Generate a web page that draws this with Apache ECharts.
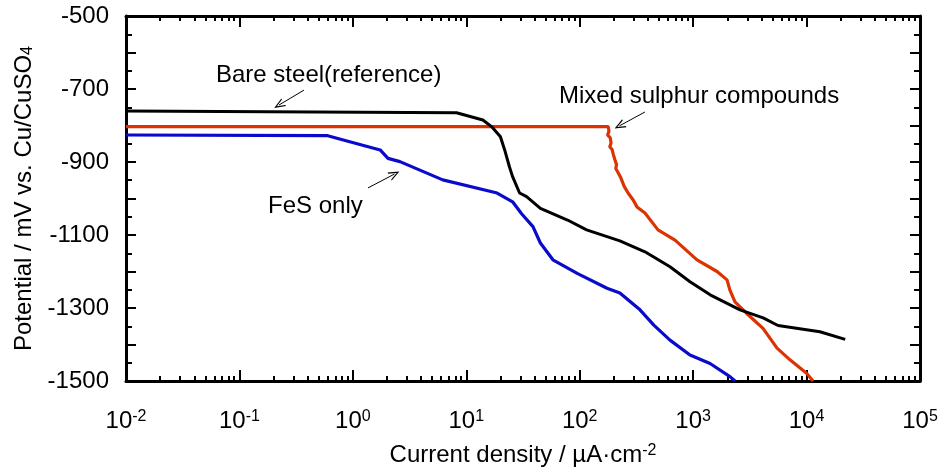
<!DOCTYPE html>
<html lang="en">
<head>
<meta charset="utf-8">
<title>Polarisation curves</title>
<style>
html, body { margin: 0; padding: 0; background: #fff; }
#chart { width: 944px; height: 473px; }
</style>
</head>
<body>
<div id="chart"></div>
<script src="https://cdn.jsdelivr.net/npm/echarts@6/dist/echarts.min.js"></script>
<script>
// current density (uA/cm2) / potential (mV vs. Cu/CuSO4)
var bareX = [0.01, 8.2, 14, 16.7, 20, 21.8, 24, 25.6, 29.5, 34, 45, 78, 115, 226, 376, 625, 938, 1413, 2590, 4140, 5600, 13100, 21900];
var bareY = [-760, -765, -785, -803, -831, -867, -913, -940, -985, -995, -1027, -1059, -1086, -1116, -1146, -1187, -1228, -1264, -1305, -1327, -1348, -1365, -1386];

var fesX = [0.01, 0.6, 1.74, 2.04, 2.6, 6.2, 18.7, 25.6, 30.6, 38.7, 45, 58, 95, 174, 226, 340, 450, 625, 938, 1410, 2110, 2340];
var fesY = [-826, -828, -867, -890, -899, -949, -985, -1009, -1041, -1077, -1122, -1168, -1205, -1246, -1259, -1305, -1347, -1388, -1429, -1452, -1488, -1500];

var mixX = [0.01, 178.6, 181, 176, 186, 189, 184, 193, 198, 205, 211, 208, 217, 231, 246, 267, 296, 320, 376, 490, 692, 1081, 1625, 1990, 2110, 2338, 2965, 4130, 5490, 7140, 10000, 11400];
var mixY = [-803, -803, -816, -826, -834, -848, -858, -866, -880, -895, -907, -918, -928, -944, -966, -985, -1004, -1023, -1040, -1086, -1114, -1168, -1200, -1223, -1251, -1283, -1315, -1356, -1410, -1442, -1479, -1500];

// annotation arrows [from, to]
var arrowBare = [[0.371, -703], [0.223, -744]];
var arrowFes = [[1.36, -971], [2.33, -933]];
var arrowMix = [[376, -763], [224, -801]];

// axis ticks
var xDecades = [-2, -1, 0, 1, 2, 3, 4, 5];
var xMinorMult = [2, 3, 4, 5, 6, 7, 8, 9];
var yMin = -1500, yMax = -500, yStep = 100;

var xMinor = [];
xDecades.slice(0, -1).forEach(function (d) {
    xMinorMult.forEach(function (m) { xMinor.push(d + Math.log10(m)); });
});

function zip(xs, ys) {
    return xs.map(function (x, i) { return [x, ys[i]]; });
}

var FONT = "'Liberation Sans', Arial, sans-serif";
var FS = 24;
var V_ARROW = 'path://M5,0L10,10L8.6,10L5,2.8L1.4,10L0,10Z';

function arrow(pair) {
    return {
        silent: true,
        symbol: ['none', V_ARROW],
        symbolSize: [9, 11],
        label: { show: false },
        lineStyle: { color: '#000', width: 1, type: 'solid' },
        emphasis: { disabled: true },
        data: [[{ coord: pair[0] }, { coord: pair[1] }]]
    };
}

function tickAxis(pos, values, len, withLine, withLabel) {
    var ax = {
        type: 'value',
        position: pos,
        min: -2,
        max: 5,
        splitLine: { show: false },
        axisLine: { show: withLine, onZero: false, lineStyle: { color: '#000', width: 3 } },
        axisTick: { show: true, inside: true, length: len, customValues: values, lineStyle: { color: '#000', width: 2 } },
        axisLabel: { show: false }
    };
    if (withLabel) {
        ax.axisLabel = {
            show: true,
            customValues: values,
            margin: 28,
            formatter: function (v) { return '{b|10}{s|' + v + '}'; },
            rich: {
                b: { fontFamily: FONT, fontSize: FS, color: '#000' },
                s: { fontFamily: FONT, fontSize: 16, color: '#000', verticalAlign: 'top' }
            }
        };
        ax.name = '{a|Current density / \u00b5A\u00b7cm}{s|-2}';
        ax.nameLocation = 'middle';
        ax.nameGap = 62;
        ax.nameTextStyle = {
            rich: {
                a: { fontFamily: FONT, fontSize: FS, color: '#000' },
                s: { fontFamily: FONT, fontSize: 16, color: '#000', verticalAlign: 'top' }
            }
        };
    }
    return ax;
}

function yAxisOf(pos, withLabel) {
    var ax = {
        type: 'value',
        position: pos,
        min: yMin,
        max: yMax,
        interval: yStep,
        splitLine: { show: false },
        axisLine: { show: true, onZero: false, lineStyle: { color: '#000', width: 3 } },
        axisTick: { show: true, inside: true, length: 10, lineStyle: { color: '#000', width: 2 } },
        minorTick: { show: true, splitNumber: 2, length: 6, lineStyle: { color: '#000', width: 2 } },
        axisLabel: { show: false }
    };
    if (withLabel) {
        ax.axisLabel = {
            show: true,
            margin: 17,
            fontFamily: FONT,
            fontSize: FS,
            color: '#000',
            formatter: function (v) { return ((v - yMin) % 200 === 0) ? String(v) : ''; }
        };
        ax.name = '{a|Potential / mV vs. Cu/CuSO}{s|4}';
        ax.nameLocation = 'middle';
        ax.nameGap = 90;
        ax.nameRotate = 90;
        ax.nameTextStyle = {
            rich: {
                a: { fontFamily: FONT, fontSize: FS, color: '#000' },
                s: { fontFamily: FONT, fontSize: 16, color: '#000', verticalAlign: 'bottom' }
            }
        };
    }
    return ax;
}

var chart = echarts.init(document.getElementById('chart'));
chart.setOption({
    backgroundColor: '#fff',
    animation: false,
    grid: { left: 126, right: 24, top: 16, bottom: 92, containLabel: false },
    xAxis: [
        { type: 'log', logBase: 10, min: 0.01, max: 100000, show: false },
        tickAxis('bottom', xDecades, 11, true, true),
        tickAxis('bottom', xMinor, 5, false, false),
        tickAxis('top', xDecades, 11, true, false),
        tickAxis('top', xMinor, 5, false, false)
    ],
    yAxis: [
        yAxisOf('left', true),
        yAxisOf('right', false)
    ],
    graphic: [
        { type: 'text', left: 216, top: 63, style: { text: 'Bare steel(reference)', font: FS + 'px ' + FONT, fill: '#000' } },
        { type: 'text', left: 268, top: 194, style: { text: 'FeS only', font: FS + 'px ' + FONT, fill: '#000' } },
        { type: 'text', left: 559, top: 84, style: { text: 'Mixed sulphur compounds', font: FS + 'px ' + FONT, fill: '#000' } }
    ],
    series: [
        {
            name: 'Bare steel(reference)', type: 'line', xAxisIndex: 0, yAxisIndex: 0,
            showSymbol: false, symbol: 'none', z: 3,
            lineStyle: { color: '#000000', width: 3 },
            data: zip(bareX, bareY),
            markLine: arrow(arrowBare)
        },
        {
            name: 'FeS only', type: 'line', xAxisIndex: 0, yAxisIndex: 0,
            showSymbol: false, symbol: 'none', z: 2,
            lineStyle: { color: '#0a0acc', width: 3.2 },
            data: zip(fesX, fesY),
            markLine: arrow(arrowFes)
        },
        {
            name: 'Mixed sulphur compounds', type: 'line', xAxisIndex: 0, yAxisIndex: 0,
            showSymbol: false, symbol: 'none', z: 2,
            lineStyle: { color: '#dc3300', width: 3.2 },
            data: zip(mixX, mixY),
            markLine: arrow(arrowMix)
        }
    ]
});
</script>
</body>
</html>
